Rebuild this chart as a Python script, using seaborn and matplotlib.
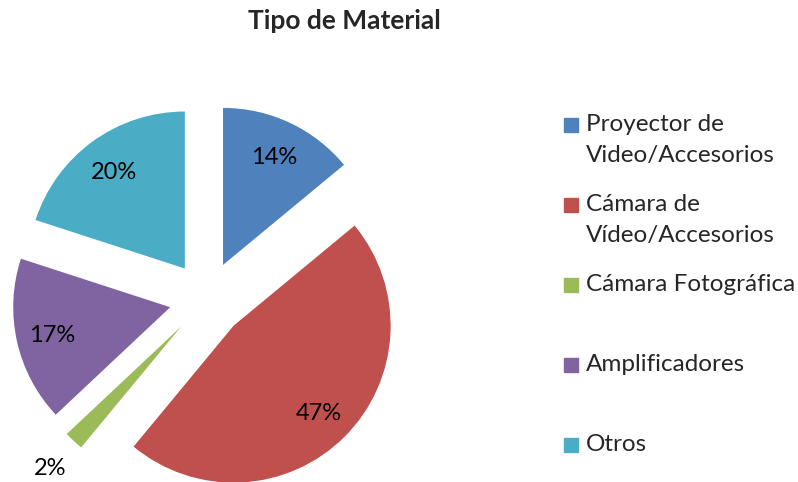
import numpy as np
import matplotlib
matplotlib.use("Agg")
import matplotlib.pyplot as plt
import seaborn as sns
from matplotlib.patches import Rectangle

# Datos del grafico
categorias = ["Proyector de\nVideo/Accesorios", "Cámara de\nVídeo/Accesorios",
              "Cámara Fotográfica", "Amplificadores", "Otros"]
porcentajes = [14, 47, 2, 17, 20]
colores = ["#4F81BD", "#C0504D", "#9BBB59", "#8064A2", "#4BACC6"]

sns.set_theme(style="white")
plt.rcParams['font.family'] = ['Lato', 'DejaVu Sans']

W, H = 798, 482
fig = plt.figure(figsize=(W / 100, H / 100), dpi=100)
ax = fig.add_axes([0, 0, 1, 1])

wedges, texts, autotexts = ax.pie(
    porcentajes, explode=[0.24] * len(porcentajes), colors=colores,
    startangle=90, counterclock=False, autopct='%1.0f%%',
    pctdistance=0.77, textprops={'fontsize': 17, 'color': 'black'},
    wedgeprops={'linewidth': 0})

# la etiqueta del sector pequeno va por fuera
for w, t, v in zip(wedges, autotexts, porcentajes):
    t.set_va('center_baseline')
    if v < 5:
        ang = np.deg2rad((w.theta1 + w.theta2) / 2)
        cx, cy = w.center
        t.set_position((cx + 1.22 * np.cos(ang), cy + 1.22 * np.sin(ang)))

# escala: radio 1 = 157 px, centro en (207, 299) px
r_px, cx_px, cy_px = 157, 207, 299
ax.set_aspect('auto')
ax.set_xlim(-cx_px / r_px, (W - cx_px) / r_px)
ax.set_ylim(-(H - cy_px) / r_px, cy_px / r_px)
ax.axis('off')

fig.text(344 / W, 1 - 21 / H, "Tipo de Material", ha='center', va='center',
         fontsize=19, fontweight='bold')

# leyenda
for i, (lab, col) in enumerate(zip(categorias, colores)):
    y = 125 + 80 * i
    fig.patches.append(Rectangle((564 / W, 1 - (y + 7) / H), 14 / W, 14 / H,
                                 transform=fig.transFigure, color=col))
    fig.text(586 / W, 1 - (y - 11) / H, lab, ha='left', va='top',
             fontsize=17.5, linespacing=1.6)

fig.savefig("out.png", dpi=100)
